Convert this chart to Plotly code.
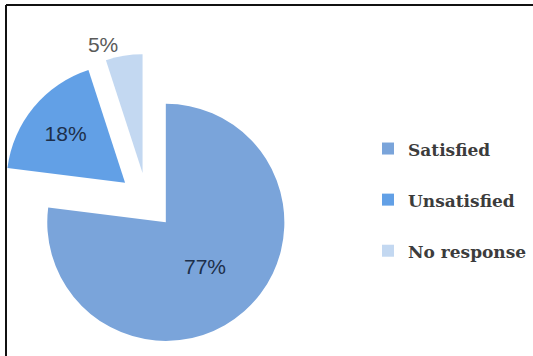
import plotly.graph_objects as go

# Survey responses
labels = ["Satisfied", "Unsatisfied", "No response"]
values = [77, 18, 5]
slice_colors = ["#7aa4da", "#62a0e6", "#c3d8f1"]
text_colors = ["#1d2f4a", "#1d2f4a", "#5a5a5a"]
text_positions = ["inside", "inside", "outside"]

W, H = 533, 356

# legend rows: bold label plus a blank line for the wide row spacing
legend_labels = [
    "<span style='font-size:17px'><b>%s</b></span><br> " % l for l in labels
]

fig = go.Figure(
    go.Pie(
        labels=legend_labels,
        values=values,
        sort=False,
        direction="clockwise",
        rotation=0,
        pull=[0.24, 0.24, 0.24],
        marker=dict(colors=slice_colors, line=dict(width=0)),
        texttemplate="%{value}%",
        textposition=text_positions,
        insidetextorientation="horizontal",
        textfont=dict(family="Liberation Sans", size=21, color=text_colors),
        domain=dict(x=[0, 294 / W], y=[1 - 348 / H, 1 - 54 / H]),
        hoverinfo="percent",
    )
)

# frame along the top and left edges
fig.add_shape(type="line", xref="paper", yref="paper",
              x0=6 / W, x1=1.02, y0=1 - 5 / H, y1=1 - 5 / H,
              line=dict(color="#111111", width=2))
fig.add_shape(type="line", xref="paper", yref="paper",
              x0=6 / W, x1=6 / W, y0=-0.02, y1=1 - 5 / H,
              line=dict(color="#111111", width=2))

fig.update_layout(
    width=W,
    height=H,
    margin=dict(l=0, r=0, t=0, b=0, autoexpand=False),
    paper_bgcolor="white",
    plot_bgcolor="white",
    showlegend=True,
    legend=dict(
        x=368 / W, xanchor="left",
        y=1 - 130 / H, yanchor="top",
        valign="top",
        font=dict(family="DejaVu Serif", size=18.5, color="#3c3c3c"),
        bgcolor="rgba(0,0,0,0)",
    ),
)

fig.write_html("out.html")
